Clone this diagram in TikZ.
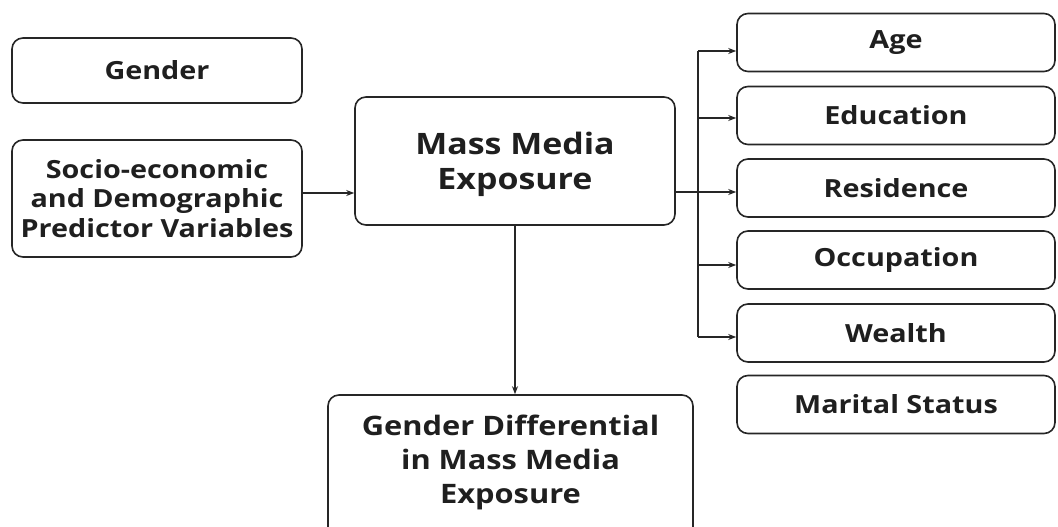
\documentclass[tikz,border=0pt]{standalone}
\usepackage{fontspec}
\setmainfont{Open Sans}[FakeStretch=1.15]
\usetikzlibrary{arrows.meta,calc}
\begin{document}
\begin{tikzpicture}[x=1pt,y=-1pt,
  box/.style={draw=black!85,line width=1.6pt,rounded corners=11pt,inner sep=0pt,align=center,text=black!88},
  smalltxt/.style={font=\fontsize{25}{29.5}\selectfont\bfseries},
  bigtxt/.style={font=\fontsize{29.5}{35}\selectfont\bfseries},
  gdtxt/.style={font=\fontsize{26.8}{34}\selectfont\bfseries},
  arr/.style={draw=black!85,line width=1.1pt,-{Stealth[length=8pt,width=6pt]}},
  ln/.style={draw=black!85,line width=1.1pt}]
\useasboundingbox (0,0) rectangle (1058,527);
\clip (0,0) rectangle (1058,527);
\fill[white] (0,0) rectangle (1058,527);
\node[box,smalltxt,minimum width=290pt,minimum height=65pt] (gender) at (157,70.5) {Gender};
\node[box,smalltxt,minimum width=290pt,minimum height=117pt] (socio) at (157,198.5) {Socio-economic\\and Demographic\\Predictor Variables};
\node[box,minimum width=320pt,minimum height=128pt] (mass) at (515,161) {};
\node[bigtxt,align=center,inner sep=0pt,text=black!88] (masst) at (515,164) {Mass Media\\Exposure};
\node[box,smalltxt,minimum width=318pt,minimum height=58pt] (age) at (896,42.5) {Age};
\node[box,smalltxt,minimum width=318pt,minimum height=58pt] (edu) at (896,115.5) {Education};
\node[box,smalltxt,minimum width=318pt,minimum height=58pt] (res) at (896,188) {Residence};
\node[box,smalltxt,minimum width=318pt,minimum height=58pt] (occ) at (896,260) {Occupation};
\node[box,smalltxt,minimum width=318pt,minimum height=58pt] (wea) at (896,333) {Wealth};
\node[box,smalltxt,minimum width=318pt,minimum height=58pt] (mar) at (896,404.5) {Marital Status};
\node[box,minimum width=365pt,minimum height=150pt] (gd) at (510.5,470) {};
\node[gdtxt,align=center,inner sep=0pt,text=black!88] (gdt) at (510.5,462) {Gender Differential\\in Mass Media\\Exposure};
% connectors
\coordinate (sin) at (0,193);
\draw[arr] (socio.east |- sin) -- (mass.west |- sin);
\draw[arr] (mass.south) -- (mass.south |- gd.north);
\coordinate (bt) at (698,51);
\coordinate (bb) at (698,337);
\coordinate (bm) at (698,192);
\draw[ln] (bt) -- (bb);
\draw[arr] (mass.east |- bm) -- (res.west |- bm);
\draw[arr] (bt) -- (age.west |- bt);
\coordinate (b2) at (698,118);
\draw[arr] (b2) -- (edu.west |- b2);
\coordinate (b4) at (698,265);
\draw[arr] (b4) -- (occ.west |- b4);
\draw[arr] (bb) -- (wea.west |- bb);
\end{tikzpicture}
\end{document}
